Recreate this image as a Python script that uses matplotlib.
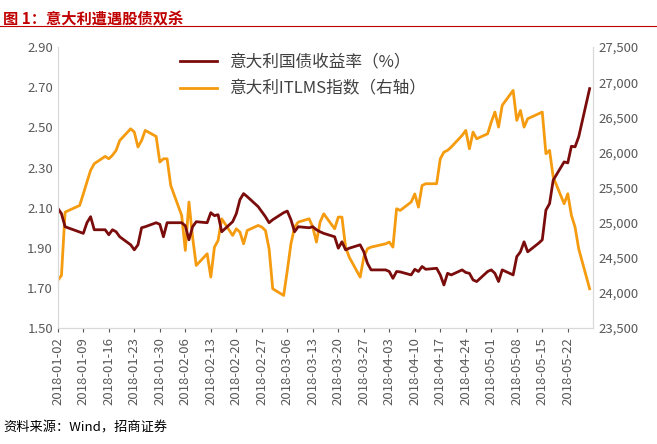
import matplotlib
matplotlib.use("Agg")
import matplotlib.pyplot as plt
import matplotlib.dates as mdates
import pandas as pd

plt.rcParams["font.family"] = ["Noto Sans CJK SC"]

yield_dates = ["01-02", "01-03", "01-04", "01-09", "01-10", "01-11", "01-12", "01-15", "01-16",
               "01-17", "01-18", "01-19", "01-22", "01-23", "01-24", "01-25", "01-26", "01-29",
               "01-30", "01-31", "02-01", "02-02", "02-05", "02-06", "02-07", "02-08", "02-09",
               "02-12", "02-13", "02-14", "02-15", "02-16", "02-19", "02-20", "02-21", "02-22",
               "02-23", "02-26", "02-27", "02-28", "03-01", "03-02", "03-05", "03-06", "03-07",
               "03-08", "03-09", "03-12", "03-13", "03-14", "03-15", "03-16", "03-19", "03-20",
               "03-21", "03-22", "03-23", "03-26", "03-27", "03-28", "03-29", "03-30", "04-02",
               "04-03", "04-04", "04-05", "04-06", "04-09", "04-10", "04-11", "04-12", "04-13",
               "04-16", "04-17", "04-18", "04-19", "04-20", "04-23", "04-24", "04-25", "04-26",
               "04-27", "04-30", "05-01", "05-02", "05-03", "05-04", "05-07", "05-08", "05-09",
               "05-10", "05-11", "05-14", "05-15", "05-16", "05-17", "05-18", "05-21", "05-22",
               "05-23", "05-24", "05-25", "05-28"]
yield_values = [2.097, 2.07, 2.005, 1.972, 2.025, 2.055, 1.99, 1.99, 1.965,
                1.99, 1.98, 1.955, 1.915, 1.89, 1.915, 2.0, 2.005, 2.025,
                2.017, 1.955, 2.025, 2.025, 2.025, 2.01, 1.94, 2.005, 2.03,
                2.025, 2.075, 2.06, 2.065, 1.98, 2.03, 2.07, 2.14, 2.17,
                2.155, 2.105, 2.08, 2.055, 2.025, 2.04, 2.075, 2.083, 2.04,
                1.98, 2.005, 2.0, 2.005, 1.99, 1.98, 1.972, 1.955, 1.898,
                1.93, 1.89, 1.898, 1.915, 1.88, 1.823, 1.79, 1.79, 1.79,
                1.782, 1.748, 1.782, 1.78, 1.765, 1.793, 1.782, 1.807, 1.793,
                1.798, 1.765, 1.715, 1.773, 1.765, 1.79, 1.777, 1.773, 1.74,
                1.732, 1.782, 1.79, 1.773, 1.732, 1.79, 1.765, 1.856, 1.88,
                1.93, 1.88, 1.923, 1.94, 2.088, 2.12, 2.237, 2.328, 2.323,
                2.406, 2.403, 2.453, 2.693]

itlms_dates = ["01-02", "01-03", "01-04", "01-05", "01-08", "01-09", "01-10", "01-11", "01-12",
               "01-15", "01-16", "01-17", "01-18", "01-19", "01-22", "01-23", "01-24", "01-25",
               "01-26", "01-29", "01-30", "01-31", "02-01", "02-02", "02-05", "02-06", "02-07",
               "02-08", "02-09", "02-12", "02-13", "02-14", "02-15", "02-16", "02-19", "02-20",
               "02-21", "02-22", "02-23", "02-26", "02-27", "02-28", "03-01", "03-02", "03-05",
               "03-06", "03-07", "03-08", "03-09", "03-12", "03-13", "03-14", "03-15", "03-16",
               "03-19", "03-20", "03-21", "03-22", "03-23", "03-26", "03-27", "03-28", "03-29",
               "04-02", "04-03", "04-04", "04-05", "04-06", "04-09", "04-10", "04-11", "04-12",
               "04-13", "04-16", "04-17", "04-18", "04-19", "04-20", "04-23", "04-24", "04-25",
               "04-26", "04-27", "04-30", "05-01", "05-02", "05-03", "05-04", "05-07", "05-08",
               "05-09", "05-10", "05-11", "05-14", "05-15", "05-16", "05-17", "05-18", "05-21",
               "05-22", "05-23", "05-24", "05-25", "05-28"]
itlms_values = [24180, 24250, 25150, 25175, 25246, 25410, 25580, 25745, 25840,
                25944, 25910, 25960, 26030, 26170, 26337, 26290, 26077, 26170,
                26314, 26228, 25863, 25910, 25910, 25530, 25104, 24606, 25294,
                24795, 24392, 24558, 24226, 24653, 24748, 25056, 24819, 24914,
                24866, 24700, 24890, 24961, 24938, 24890, 24629, 24060, 23965,
                24320, 24700, 24938, 25009, 25056, 24938, 24724, 25009, 25127,
                24914, 25080, 25080, 24653, 24510, 24226, 24510, 24629, 24653,
                24700, 24724, 24653, 25199, 25175, 25294, 25410, 25222, 25530,
                25555, 25555, 25910, 26005, 26030, 26077, 26243, 26314, 26053,
                26290, 26195, 26266, 26433, 26575, 26361, 26670, 26883, 26456,
                26598, 26361, 26480, 26551, 26575, 25982, 26030, 25650, 25270,
                25412, 25104, 24938, 24629, 24060]

yx = pd.to_datetime(["2018-" + d for d in yield_dates])
ix = pd.to_datetime(["2018-" + d for d in itlms_dates])

fig = plt.figure(figsize=(6.57, 4.44), dpi=100)
ax = fig.add_axes([0.088, 0.261, 0.815, 0.633])
ax2 = ax.twinx()

l1, = ax.plot(yx, yield_values, color="#7B0C0C", lw=2, label="意大利国债收益率（%）")
l2, = ax2.plot(ix, itlms_values, color="#F59B0F", lw=2, label="意大利ITLMS指数（右轴）")
ax.set_zorder(ax2.get_zorder() + 1)
ax.patch.set_visible(False)

ax.set_ylim(1.5, 2.9)
ax.set_yticks([1.5 + 0.2 * i for i in range(8)])
ax.yaxis.set_major_formatter(matplotlib.ticker.FormatStrFormatter("%.2f"))
ax2.set_ylim(23500, 27500)
ax2.set_yticks(range(23500, 27501, 500))
ax2.yaxis.set_major_formatter(matplotlib.ticker.StrMethodFormatter("{x:,.0f}"))

ax.set_xlim(pd.Timestamp("2018-01-02"), pd.Timestamp("2018-05-29"))
ticks = pd.date_range("2018-01-02", "2018-05-22", freq="7D")
ax.set_xticks(ticks)
ax.xaxis.set_major_formatter(mdates.DateFormatter("%Y-%m-%d"))
for lab in ax.get_xticklabels():
    lab.set_rotation(90)

for a in (ax, ax2):
    a.tick_params(labelsize=9.5, colors="#595959", length=3)
    a.spines["top"].set_visible(False)
    for s in ("left", "right", "bottom"):
        a.spines[s].set_color("#D9D9D9")
ax.tick_params(axis="y", length=0)
ax2.tick_params(axis="y", length=0)

ax.legend(handles=[l1, l2], loc="upper left", bbox_to_anchor=(0.2, 1.03), frameon=False,
          fontsize=12, handlelength=2.2, labelspacing=0.6, labelcolor="#404040")

fig.text(0.005, 0.975, "图 1：意大利遭遇股债双杀", color="#C00000", fontsize=11,
         fontweight="bold", va="top")
fig.add_artist(plt.Line2D([0, 1], [0.942, 0.942], color="#C00000", lw=0.8))
fig.text(0.005, 0.022, "资料来源：Wind，招商证券", color="#000000", fontsize=9.5, va="bottom")

fig.savefig("out.png", dpi=100)
